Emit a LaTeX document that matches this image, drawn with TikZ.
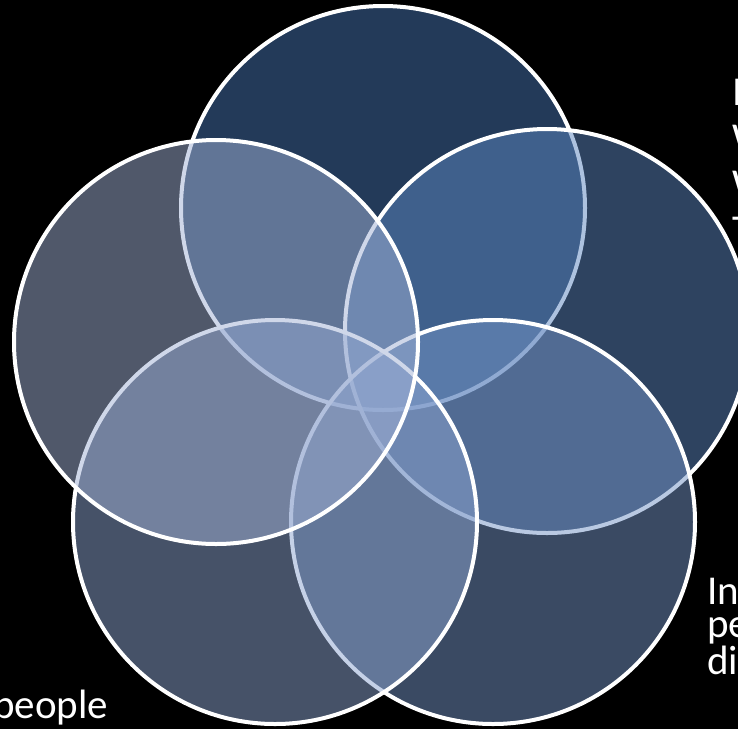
\documentclass[tikz,border=0pt]{standalone}
\usepackage{fontspec}
\setmainfont{Carlito}
\definecolor{topc}{RGB}{70,116,178}
\definecolor{rightc}{RGB}{92,134,192}
\definecolor{brc}{RGB}{116,148,198}
\definecolor{blc}{RGB}{140,164,208}
\definecolor{leftc}{RGB}{160,176,212}
\begin{document}
\begin{tikzpicture}[x=1pt,y=-1pt,
  petal/.style={circle,draw=white,line width=4pt,fill opacity=0.5,minimum size=404pt,inner sep=0pt},
  lbl/.style={anchor=base west,inner sep=0pt,text=white,align=left}]
\useasboundingbox (0,0) rectangle (738,729);
\clip (0,0) rectangle (738,729);
\fill[black] (0,0) rectangle (738,729);
% labels (cut off by the frame; base = last line)
\node[lbl,font=\fontsize{41}{46}\selectfont] (trlbl) at (732,243) {I\\W\\W\\T};
\node[lbl,font=\fontsize{41}{33}\selectfont] (brlbl) at (707,674) {In\\pe\\di};
\node[lbl,font=\fontsize{41}{33}\selectfont] (bllbl) at (-7,718) {people};
% the five circles, clockwise from the top
\node[petal,fill=topc] (ctop) at (383,208) {};
\node[petal,fill=rightc] (cright) at (547,331) {};
\node[petal,fill=brc] (cbr) at (493,522) {};
\node[petal,fill=blc] (cbl) at (275,522) {};
\node[petal,fill=leftc] (cleft) at (216,342) {};
\end{tikzpicture}
\end{document}
